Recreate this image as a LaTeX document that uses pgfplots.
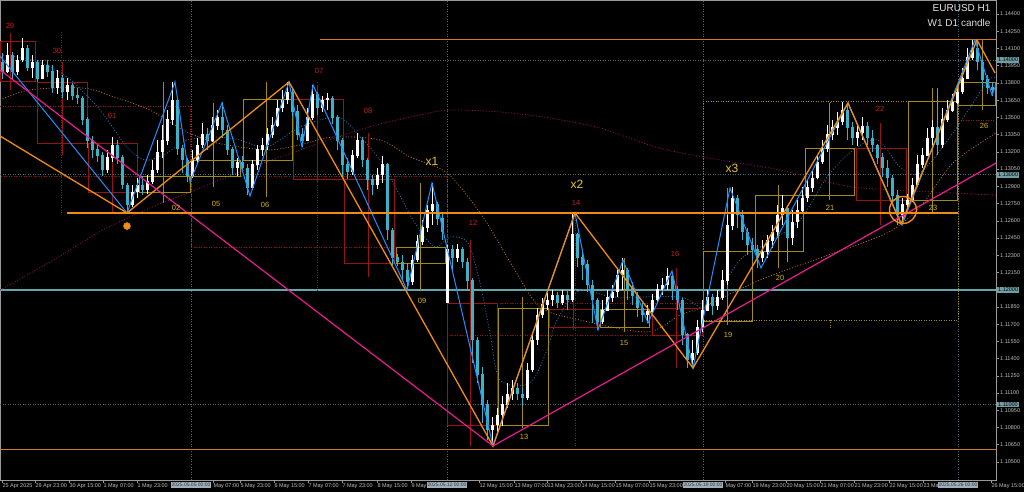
\documentclass[border=0pt]{standalone}
\usepackage{pgfplots}
\pgfplotsset{compat=1.18}
\usepackage{pgfplotstable}
\usepackage{fontspec}
\setmainfont{Liberation Sans}
\definecolor{cbear}{RGB}{60,178,200}
\definecolor{zzorange}{RGB}{240,140,20}
\definecolor{hlorange}{RGB}{205,125,30}
\definecolor{zzblue}{RGB}{30,144,255}
\definecolor{zzpink}{RGB}{232,28,140}
\definecolor{tealsolid}{RGB}{100,165,170}
\definecolor{tealdot}{RGB}{70,110,120}
\definecolor{sepgray}{RGB}{85,100,110}
\definecolor{dred}{RGB}{150,20,20}
\definecolor{lred}{RGB}{200,30,30}
\definecolor{olivebox}{RGB}{160,140,20}
\definecolor{ylab}{RGB}{215,180,20}
\definecolor{xlab}{RGB}{230,200,30}
\definecolor{maorange}{RGB}{180,110,30}
\definecolor{mamag}{RGB}{140,20,85}
\definecolor{mablue}{RGB}{40,110,170}
\definecolor{ticktxt}{RGB}{190,190,190}
\definecolor{pricebox}{RGB}{110,160,165}
\definecolor{timebox}{RGB}{160,175,190}

\pgfplotstableread{
x o h l c
7.5 1.1390 1.1415 1.1389 1.1404
17.5 1.1390 1.1404 1.1387 1.1400
22.5 1.1400 1.1419 1.1398 1.1410
32.5 1.1393 1.1404 1.1384 1.1398
42.5 1.1384 1.1400 1.1383 1.1395
57.5 1.1376 1.1391 1.1370 1.1384
67.5 1.1372 1.1384 1.1365 1.1378
107.5 1.1304 1.1322 1.1302 1.1315
112.5 1.1315 1.1333 1.1311 1.1326
132.5 1.1274 1.1291 1.1272 1.1285
137.5 1.1285 1.1297 1.1280 1.1291
147.5 1.1287 1.1300 1.1283 1.1294
152.5 1.1294 1.1313 1.1292 1.1304
157.5 1.1304 1.1330 1.1302 1.1320
162.5 1.1320 1.1343 1.1315 1.1330
167.5 1.1330 1.1356 1.1326 1.1348
172.5 1.1348 1.1381 1.1343 1.1365
192.5 1.1299 1.1322 1.1297 1.1313
197.5 1.1313 1.1332 1.1309 1.1326
202.5 1.1326 1.1345 1.1323 1.1335
212.5 1.1330 1.1350 1.1329 1.1343
217.5 1.1343 1.1356 1.1339 1.1350
237.5 1.1306 1.1315 1.1299 1.1311
252.5 1.1289 1.1313 1.1287 1.1309
257.5 1.1309 1.1326 1.1304 1.1322
262.5 1.1322 1.1332 1.1316 1.1326
267.5 1.1326 1.1341 1.1322 1.1335
272.5 1.1335 1.1350 1.1332 1.1343
277.5 1.1343 1.1365 1.1342 1.1358
282.5 1.1358 1.1374 1.1355 1.1365
287.5 1.1365 1.1381 1.1362 1.1372
307.5 1.1330 1.1358 1.1329 1.1350
312.5 1.1350 1.1378 1.1348 1.1370
322.5 1.1358 1.1369 1.1355 1.1365
327.5 1.1365 1.1371 1.1356 1.1367
352.5 1.1303 1.1322 1.1300 1.1317
357.5 1.1317 1.1336 1.1315 1.1330
377.5 1.1291 1.1306 1.1288 1.1300
382.5 1.1300 1.1316 1.1293 1.1309
412.5 1.1207 1.1230 1.1204 1.1226
417.5 1.1226 1.1248 1.1224 1.1242
422.5 1.1242 1.1261 1.1239 1.1254
427.5 1.1254 1.1274 1.1250 1.1269
432.5 1.1269 1.1293 1.1256 1.1274
447.5 1.1189 1.1239 1.1188 1.1235
457.5 1.1228 1.1240 1.1224 1.1235
492.5 1.1078 1.1089 1.1064 1.1082
497.5 1.1082 1.1097 1.1076 1.1091
502.5 1.1091 1.1107 1.1081 1.1100
507.5 1.1100 1.1119 1.1097 1.1109
512.5 1.1109 1.1121 1.1104 1.1114
527.5 1.1106 1.1136 1.1104 1.1130
532.5 1.1130 1.1161 1.1128 1.1156
537.5 1.1156 1.1184 1.1152 1.1178
542.5 1.1178 1.1193 1.1175 1.1187
547.5 1.1187 1.1197 1.1182 1.1191
552.5 1.1191 1.1200 1.1186 1.1195
562.5 1.1189 1.1200 1.1187 1.1195
572.5 1.1191 1.1267 1.1189 1.1248
602.5 1.1172 1.1191 1.1170 1.1182
607.5 1.1182 1.1200 1.1181 1.1193
612.5 1.1193 1.1204 1.1189 1.1198
617.5 1.1198 1.1217 1.1194 1.1213
622.5 1.1213 1.1228 1.1200 1.1217
647.5 1.1178 1.1187 1.1171 1.1181
652.5 1.1181 1.1196 1.1179 1.1191
657.5 1.1191 1.1205 1.1189 1.1200
662.5 1.1200 1.1210 1.1195 1.1204
667.5 1.1204 1.1219 1.1200 1.1212
692.5 1.1139 1.1156 1.1134 1.1145
697.5 1.1145 1.1174 1.1143 1.1167
702.5 1.1167 1.1191 1.1163 1.1182
707.5 1.1182 1.1200 1.1181 1.1193
717.5 1.1186 1.1200 1.1182 1.1193
722.5 1.1193 1.1217 1.1191 1.1208
727.5 1.1208 1.1265 1.1204 1.1256
732.5 1.1256 1.1289 1.1252 1.1280
762.5 1.1228 1.1243 1.1224 1.1233
767.5 1.1233 1.1248 1.1228 1.1243
772.5 1.1243 1.1256 1.1236 1.1250
777.5 1.1250 1.1274 1.1245 1.1265
782.5 1.1265 1.1282 1.1256 1.1271
792.5 1.1245 1.1269 1.1239 1.1259
797.5 1.1259 1.1278 1.1254 1.1269
802.5 1.1269 1.1289 1.1268 1.1280
807.5 1.1280 1.1296 1.1276 1.1289
812.5 1.1289 1.1304 1.1285 1.1297
817.5 1.1297 1.1317 1.1296 1.1311
822.5 1.1311 1.1330 1.1309 1.1323
827.5 1.1323 1.1343 1.1320 1.1335
832.5 1.1335 1.1348 1.1330 1.1341
837.5 1.1341 1.1355 1.1335 1.1346
842.5 1.1346 1.1363 1.1343 1.1356
857.5 1.1332 1.1343 1.1325 1.1337
862.5 1.1337 1.1350 1.1330 1.1342
902.5 1.1265 1.1280 1.1259 1.1274
907.5 1.1274 1.1283 1.1269 1.1278
912.5 1.1278 1.1297 1.1276 1.1291
917.5 1.1291 1.1317 1.1289 1.1309
922.5 1.1309 1.1323 1.1306 1.1317
927.5 1.1317 1.1341 1.1316 1.1332
932.5 1.1332 1.1348 1.1326 1.1341
942.5 1.1326 1.1358 1.1323 1.1348
947.5 1.1348 1.1365 1.1346 1.1356
952.5 1.1356 1.1370 1.1355 1.1363
957.5 1.1363 1.1378 1.1362 1.1372
962.5 1.1372 1.1393 1.1370 1.1384
967.5 1.1384 1.1410 1.1383 1.1402
972.5 1.1402 1.1417 1.1400 1.1410
}\bull

\pgfplotstableread{
x o h l c
2.5 1.1398 1.1406 1.1383 1.1390
12.5 1.1404 1.1407 1.1383 1.1390
27.5 1.1410 1.1413 1.1390 1.1393
37.5 1.1398 1.1400 1.1381 1.1384
47.5 1.1395 1.1400 1.1385 1.1390
52.5 1.1390 1.1396 1.1371 1.1376
62.5 1.1384 1.1387 1.1367 1.1372
72.5 1.1378 1.1380 1.1365 1.1369
77.5 1.1369 1.1376 1.1362 1.1367
82.5 1.1367 1.1369 1.1343 1.1348
87.5 1.1348 1.1350 1.1323 1.1330
92.5 1.1330 1.1334 1.1315 1.1322
97.5 1.1322 1.1326 1.1311 1.1317
102.5 1.1317 1.1320 1.1299 1.1304
117.5 1.1326 1.1330 1.1309 1.1315
122.5 1.1315 1.1317 1.1288 1.1291
127.5 1.1291 1.1293 1.1267 1.1274
142.5 1.1291 1.1299 1.1282 1.1287
177.5 1.1365 1.1367 1.1317 1.1323
182.5 1.1323 1.1326 1.1302 1.1313
187.5 1.1313 1.1315 1.1294 1.1299
207.5 1.1335 1.1341 1.1322 1.1330
222.5 1.1350 1.1363 1.1332 1.1339
227.5 1.1339 1.1343 1.1317 1.1322
232.5 1.1322 1.1324 1.1300 1.1306
242.5 1.1311 1.1316 1.1303 1.1306
247.5 1.1306 1.1309 1.1282 1.1289
292.5 1.1372 1.1376 1.1350 1.1355
297.5 1.1355 1.1361 1.1330 1.1335
302.5 1.1335 1.1341 1.1324 1.1330
317.5 1.1370 1.1372 1.1352 1.1358
332.5 1.1367 1.1369 1.1344 1.1350
337.5 1.1350 1.1352 1.1322 1.1330
342.5 1.1330 1.1332 1.1298 1.1309
347.5 1.1309 1.1315 1.1296 1.1303
362.5 1.1330 1.1333 1.1307 1.1313
367.5 1.1313 1.1315 1.1287 1.1296
372.5 1.1296 1.1300 1.1282 1.1291
387.5 1.1309 1.1310 1.1243 1.1252
392.5 1.1252 1.1254 1.1220 1.1228
397.5 1.1228 1.1231 1.1221 1.1224
402.5 1.1224 1.1230 1.1208 1.1217
407.5 1.1217 1.1223 1.1200 1.1207
437.5 1.1274 1.1276 1.1256 1.1262
442.5 1.1262 1.1268 1.1243 1.1250
452.5 1.1235 1.1239 1.1215 1.1228
462.5 1.1235 1.1237 1.1219 1.1224
467.5 1.1224 1.1228 1.1200 1.1208
472.5 1.1208 1.1210 1.1136 1.1156
477.5 1.1156 1.1159 1.1119 1.1126
482.5 1.1126 1.1133 1.1084 1.1100
487.5 1.1100 1.1104 1.1069 1.1078
517.5 1.1114 1.1119 1.1104 1.1109
522.5 1.1109 1.1114 1.1099 1.1106
557.5 1.1195 1.1198 1.1184 1.1189
567.5 1.1195 1.1201 1.1182 1.1191
577.5 1.1248 1.1249 1.1220 1.1228
582.5 1.1228 1.1235 1.1208 1.1222
587.5 1.1222 1.1226 1.1198 1.1204
592.5 1.1204 1.1208 1.1171 1.1191
597.5 1.1191 1.1193 1.1165 1.1172
627.5 1.1217 1.1219 1.1191 1.1201
632.5 1.1201 1.1207 1.1187 1.1195
637.5 1.1195 1.1198 1.1176 1.1184
642.5 1.1184 1.1188 1.1172 1.1178
672.5 1.1212 1.1215 1.1191 1.1200
677.5 1.1200 1.1203 1.1182 1.1191
682.5 1.1191 1.1193 1.1152 1.1161
687.5 1.1161 1.1162 1.1132 1.1139
712.5 1.1193 1.1196 1.1178 1.1186
737.5 1.1280 1.1282 1.1254 1.1265
742.5 1.1265 1.1269 1.1243 1.1250
747.5 1.1250 1.1254 1.1230 1.1239
752.5 1.1239 1.1245 1.1226 1.1235
757.5 1.1235 1.1239 1.1219 1.1228
787.5 1.1271 1.1274 1.1224 1.1245
847.5 1.1356 1.1361 1.1330 1.1341
852.5 1.1341 1.1346 1.1326 1.1332
867.5 1.1342 1.1346 1.1326 1.1332
872.5 1.1332 1.1339 1.1320 1.1326
877.5 1.1326 1.1327 1.1309 1.1315
882.5 1.1315 1.1319 1.1298 1.1306
887.5 1.1306 1.1313 1.1289 1.1297
892.5 1.1297 1.1300 1.1276 1.1282
897.5 1.1282 1.1287 1.1256 1.1265
937.5 1.1341 1.1376 1.1317 1.1326
977.5 1.1410 1.1416 1.1391 1.1398
982.5 1.1398 1.1400 1.1376 1.1383
987.5 1.1383 1.1387 1.1370 1.1376
992.5 1.1376 1.1381 1.1369 1.1374
}\bear

\begin{document}
\begin{tikzpicture}
\fill[black] (0,0) rectangle (1024pt,492pt);
\begin{axis}[
  at={(0pt,12pt)}, anchor=south west,
  scale only axis, width=996pt, height=480pt,
  xmin=0, xmax=996, ymin=1.10343, ymax=1.14522,
  clip mode=individual,
  unbounded coords=jump,
  axis line style={draw=gray!80, line width=0.6pt},
  tick style={draw=gray!80, line width=0.5pt},
  major tick length=3pt,
  tick align=outside,
  xtick pos=left, ytick pos=right, yticklabel pos=right,
  xtick={2,35,69,103,137,213,240,274,308,342,377,411,479,514,547,581,615,649,725,752,786,820,854,889,923,991},
  xticklabels={25 Apr 2025,29 Apr 23:00,30 Apr 15:00,1 May 07:00,1 May 23:00,May 07:00,5 May 23:00,6 May 15:00,7 May 07:00,7 May 23:00,8 May 15:00,9 May,12 May 15:00,13 May 07:00,13 May 23:00,14 May 15:00,15 May 07:00,15 May 23:00,May 07:00,19 May 23:00,20 May 15:00,21 May 07:00,21 May 23:00,22 May 15:00,23 May,26 May 15:00},
  ytick={1.144,1.1425,1.141,1.1395,1.138,1.1365,1.135,1.1335,1.132,1.1305,1.129,1.1275,1.126,1.1245,1.123,1.1215,1.12,1.1185,1.117,1.1155,1.114,1.1125,1.111,1.1095,1.108,1.1065,1.105},
  yticklabels={1.14400,1.14250,1.14100,1.13950,1.13800,1.13650,1.13500,1.13350,1.13200,1.13050,1.12900,1.12750,1.12600,1.12450,1.12300,1.12150,,1.11850,1.11700,1.11550,1.11400,1.11250,1.11100,1.10950,1.10800,1.10650,1.10500},
  xticklabel style={anchor=north west, font=\fontsize{5.5}{6}\selectfont, text=ticktxt, inner sep=0.8pt, xshift=-0.5pt},
  yticklabel style={anchor=west, font=\fontsize{5.5}{6}\selectfont, text=ticktxt, inner sep=1pt},
]
% week separators
\addplot[sepgray, dash pattern=on 1pt off 1.5pt, line width=0.6pt] coordinates {(191,1.10343)(191,1.14522)(191,nan)(447,1.10343)(447,1.14522)(447,nan)(703,1.10343)(703,1.14522)(703,nan)(958,1.10343)(958,1.14522)};
% round-level lines
\addplot[tealdot, dash pattern=on 1pt off 1.5pt, line width=0.7pt] coordinates {(0,1.14)(996,1.14)(996,nan)(0,1.13)(996,1.13)(996,nan)(0,1.11)(996,1.11)};
\addplot[tealsolid, line width=2pt] coordinates {(0,1.12)(996,1.12)};
% weekly candle boxes
\addplot[dred, dash pattern=on 1pt off 1.5pt, line width=0.7pt] coordinates {
(0,1.13599)(190,1.13599)(190,1.12990)(0,1.12990)(190,nan)
(61,1.14243)(61,1.12668)(61,nan)
(191,1.12990)(447,1.12990)(447,1.12367)(191,1.12367)(191,1.12990)(191,nan)
(317,1.13808)(317,1.11980)(317,nan)
(447,1.11884)(703,1.11884)(703,1.11606)(447,1.11606)(447,1.11884)(447,nan)
(575,1.12668)(575,1.10639)};
\addplot[olivebox, dash pattern=on 1pt off 1.5pt, line width=0.7pt] coordinates {
(703,1.13643)(958,1.13643)(958,1.11736)(703,1.11736)(703,1.13643)(703,nan)
(830,1.13625)(830,1.13643)(830,nan)(830,1.11736)(830,1.11660)};
\addplot[dred, dash pattern=on 1pt off 1.5pt, line width=0.7pt] coordinates {(958,1.13477)(996,1.13477)};
% moving averages
\addplot[maorange, dash pattern=on 1pt off 1.8pt, line width=0.8pt, smooth] coordinates {
(0,1.13651)(30,1.13739)(83,1.13756)(117,1.13669)(150,1.13564)(183,1.13390)(213,1.13286)(240,1.13242)(270,1.13216)(300,1.13260)(333,1.13329)(380,1.13303)(410,1.13155)(447,1.13016)(483,1.12633)(513,1.12198)(540,1.11849)(580,1.11736)(647,1.11632)(680,1.11780)(703,1.11849)(760,1.12084)(820,1.12276)(887,1.12494)(920,1.12720)(953,1.13103)(996,1.13364)};
\addplot[mamag, dash pattern=on 1pt off 1.8pt, line width=0.8pt, smooth] coordinates {
(0,1.11997)(50,1.12241)(103,1.12520)(150,1.12711)(200,1.12885)(250,1.13060)(300,1.13216)(340,1.13338)(380,1.13442)(420,1.13521)(450,1.13564)(500,1.13547)(550,1.13495)(600,1.13408)(640,1.13286)(667,1.13216)(720,1.13129)(780,1.13042)(853,1.12894)(953,1.12842)(996,1.12824)};
\addplot[mablue, dash pattern=on 1pt off 1.8pt, line width=0.8pt, smooth] coordinates {
(0,1.14043)(33,1.14000)(67,1.13852)(100,1.13564)(127,1.13242)(145,1.13129)(165,1.13180)(187,1.13303)(217,1.13329)(240,1.13303)(267,1.13242)(300,1.13416)(337,1.13503)(357,1.13364)(380,1.13129)(397,1.12868)(413,1.12607)(427,1.12433)(437,1.12372)(450,1.12459)(468,1.12406)(480,1.12058)(490,1.11623)(500,1.11214)(530,1.11188)(547,1.11475)(557,1.11736)(580,1.11997)(613,1.11936)(680,1.11936)(707,1.11849)(740,1.12258)(767,1.12406)(800,1.12607)(827,1.12981)(853,1.13216)(878,1.13303)(900,1.13068)(920,1.13016)(953,1.13364)(987,1.13808)(996,1.13843)};
% daily candle boxes
\addplot[dred, line width=0.8pt] coordinates {
(0,1.14165)(35,1.14165)(35,1.13817)(0,1.13817)(0,1.14165)(0,nan)
(37,1.13808)(87,1.13808)(87,1.13277)(37,1.13277)(37,1.13808)(37,nan)
(88,1.13277)(137,1.13277)(137,1.12850)(88,1.12850)(88,1.13277)(88,nan)
(293,1.13660)(343,1.13660)(343,1.12964)(293,1.12964)(293,1.13660)(293,nan)
(344,1.12964)(394,1.12964)(394,1.12232)(344,1.12232)(344,1.12964)(344,nan)
(447,1.11884)(497,1.11884)(497,1.10822)(447,1.10822)(447,1.11884)(447,nan)
(549,1.11832)(598,1.11832)(598,1.11675)(549,1.11675)(549,1.11832)(549,nan)
(652,1.11841)(702,1.11841)(702,1.11606)(652,1.11606)(652,1.11841)(652,nan)
(856,1.13234)(906,1.13234)(906,1.12781)(856,1.12781)(856,1.13234)(856,nan)
(10,1.14235)(10,1.13739)(10,nan)
(62,1.13982)(62,1.13173)(62,nan)
(112,1.13329)(112,1.12668)(112,nan)
(317,1.13782)(317,1.12929)(317,nan)
(368,1.13364)(368,1.12110)(368,nan)
(470,1.12433)(470,1.10639)(470,nan)
(573,1.12668)(573,1.11649)(573,nan)
(676,1.12189)(676,1.11318)(676,nan)
(880,1.13451)(880,1.12563)};
\addplot[olivebox, line width=0.8pt] coordinates {
(139,1.12990)(190,1.12990)(190,1.12850)(139,1.12850)(139,1.12990)(139,nan)
(191,1.13129)(240,1.13129)(240,1.12990)(191,1.12990)(191,1.13129)(191,nan)
(243,1.13660)(292,1.13660)(292,1.13129)(243,1.13129)(243,1.13660)(243,nan)
(396,1.12367)(445,1.12367)(445,1.12232)(396,1.12232)(396,1.12367)(396,nan)
(498,1.11841)(548,1.11841)(548,1.10822)(498,1.10822)(498,1.11841)(498,nan)
(600,1.11832)(649,1.11832)(649,1.11675)(600,1.11675)(600,1.11832)(600,nan)
(703,1.12337)(752,1.12337)(752,1.11727)(703,1.11727)(703,1.12337)(703,nan)
(755,1.12824)(803,1.12824)(803,1.12337)(755,1.12337)(755,1.12824)(755,nan)
(805,1.13234)(854,1.13234)(854,1.12824)(805,1.12824)(805,1.13234)(805,nan)
(908,1.13643)(957,1.13643)(957,1.12781)(908,1.12781)(908,1.13643)(908,nan)
(958,1.13808)(995,1.13808)(995,1.13608)(958,1.13608)(958,1.13808)(958,nan)
(163,1.13808)(163,1.12755)(163,nan)
(213,1.13625)(213,1.12894)(213,nan)
(266,1.13808)(266,1.12807)(266,nan)
(420,1.12929)(420,1.11997)(420,nan)
(522,1.11936)(522,1.10796)(522,nan)
(624,1.12276)(624,1.11632)(624,nan)
(727,1.12885)(727,1.11693)(727,nan)
(778,1.12912)(778,1.12189)(778,nan)
(829,1.13625)(829,1.12781)(829,nan)
(932,1.13756)(932,1.12676)(932,nan)
(982,1.14174)(982,1.13564)};
% candles
\addplot[draw=none, mark=none, error bars/.cd, y dir=both, y explicit, error mark=none, error bar style={draw=cbear, line width=0.6pt}]
  table[x=x, y=c, y error plus expr=\thisrow{h}-\thisrow{c}, y error minus expr=\thisrow{c}-\thisrow{l}] {\bear};
\addplot[draw=none, mark=none, error bars/.cd, y dir=both, y explicit, error mark=none, error bar style={draw=cbear, line width=3.4pt}]
  table[x=x, y expr=0.5*(\thisrow{o}+\thisrow{c}), y error expr=0.5*abs(\thisrow{c}-\thisrow{o})+0.00002] {\bear};
\addplot[draw=none, mark=none, error bars/.cd, y dir=both, y explicit, error mark=none, error bar style={draw=white, line width=0.6pt}]
  table[x=x, y=c, y error plus expr=\thisrow{h}-\thisrow{c}, y error minus expr=\thisrow{c}-\thisrow{l}] {\bull};
\addplot[draw=none, mark=none, error bars/.cd, y dir=both, y explicit, error mark=none, error bar style={draw=white, line width=3.4pt}]
  table[x=x, y expr=0.5*(\thisrow{o}+\thisrow{c}), y error expr=0.5*abs(\thisrow{c}-\thisrow{o})+0.00002] {\bull};
% zigzags and trend lines
\addplot[zzblue, line width=1pt] coordinates {(0,1.14034)(127,1.12668)(175,1.13808)(190,1.12938)(222,1.13625)(250,1.12816)(289,1.13808)(302,1.13242)(313,1.13782)(407,1.11997)(432,1.12929)(493,1.10639)(575,1.12668)(598,1.11649)(623,1.12258)(648,1.11710)(672,1.12163)(693,1.11318)(730,1.12885)(761,1.12189)(848,1.13625)(902,1.12563)(975,1.14174)(992,1.13695)(996,1.13782)};
\addplot[zzorange, line width=1.3pt] coordinates {(0,1.13338)(127,1.12668)(289,1.13808)(410,1.11928)(493,1.10639)(575,1.12668)(693,1.11318)(848,1.13625)(901,1.12572)(977,1.14174)(995,1.13886)};
\addplot[zzpink, line width=1.2pt] coordinates {(0,1.13913)(493,1.10639)(996,1.13103)};
\addplot[zzorange, line width=1.3pt] coordinates {(67,1.12668)(958,1.12668)};
\addplot[hlorange, line width=1pt] coordinates {(320,1.14182)(996,1.14182)};
\addplot[hlorange, line width=1pt] coordinates {(0,1.10605)(996,1.10605)};
\addplot[only marks, mark=o, mark size=13.5pt, mark options={draw=zzorange, line width=1.4pt}] coordinates {(903,1.12694)};
\addplot[only marks, mark=*, mark size=3.5pt, mark options={draw=zzorange, fill=zzorange}] coordinates {(127,1.12554)};
% day labels
\begin{scope}[every node/.style={font=\fontsize{7.5}{8}\selectfont}]
\node[text=lred] at (axis cs:10,1.14296) {29};
\node[text=lred] at (axis cs:57,1.14078) {30};
\node[text=lred] at (axis cs:112,1.13512) {01};
\node[text=ylab] at (axis cs:176,1.12711) {02};
\node[text=ylab] at (axis cs:216,1.12746) {05};
\node[text=ylab] at (axis cs:265,1.12737) {06};
\node[text=lred] at (axis cs:319,1.13904) {07};
\node[text=lred] at (axis cs:368,1.13556) {08};
\node[text=ylab] at (axis cs:422,1.11902) {09};
\node[text=lred] at (axis cs:473,1.12581) {12};
\node[text=ylab] at (axis cs:524,1.10717) {13};
\node[text=lred] at (axis cs:576,1.12755) {14};
\node[text=ylab] at (axis cs:624,1.11536) {15};
\node[text=lred] at (axis cs:675,1.12311) {16};
\node[text=ylab] at (axis cs:728,1.11606) {19};
\node[text=ylab] at (axis cs:780,1.12102) {20};
\node[text=ylab] at (axis cs:830,1.12711) {21};
\node[text=lred] at (axis cs:880,1.13573) {22};
\node[text=ylab] at (axis cs:933,1.12711) {23};
\node[text=ylab] at (axis cs:984,1.13425) {26};
\end{scope}
\node[text=xlab, font=\fontsize{12}{13}\selectfont] at (axis cs:432,1.13120) {x1};
\node[text=xlab, font=\fontsize{12}{13}\selectfont] at (axis cs:577,1.12920) {x2};
\node[text=xlab, font=\fontsize{12}{13}\selectfont] at (axis cs:732,1.13060) {x3};
\node[anchor=east, text=white!90!black, font=\fontsize{10}{11}\selectfont] at (axis cs:994,1.14452) {EURUSD H1};
\node[anchor=east, text=white!85!black, font=\fontsize{10}{11}\selectfont] at (axis cs:994,1.14322) {W1 D1 candle};
\coordinate (p1) at (axis cs:996,1.14);
\coordinate (p2) at (axis cs:996,1.13);
\coordinate (p3) at (axis cs:996,1.12);
\coordinate (p4) at (axis cs:996,1.11);
\coordinate (t1) at (axis cs:191,1.10343);
\coordinate (t2) at (axis cs:447,1.10343);
\coordinate (t3) at (axis cs:703,1.10343);
\coordinate (t4) at (axis cs:958,1.10343);
\end{axis}
\begin{scope}[every node/.style={inner xsep=1pt, inner ysep=1pt, font=\fontsize{5.5}{6}\selectfont}]
\node[anchor=west, fill=pricebox, text=black, xshift=1pt] at (p1) {1.14000};
\node[anchor=west, fill=pricebox, text=black, xshift=1pt] at (p2) {1.13000};
\node[anchor=west, fill=pricebox, text=black, xshift=1pt] at (p3) {1.12000};
\node[anchor=west, fill=pricebox, text=black, xshift=1pt] at (p4) {1.11000};
\node[anchor=north, fill=timebox, text=black!80, yshift=-2.2pt, font=\fontsize{5}{6}\selectfont] at (t1) {2025.05.05 00:00};
\node[anchor=north, fill=timebox, text=black!80, yshift=-2.2pt, font=\fontsize{5}{6}\selectfont] at (t2) {2025.05.12 00:00};
\node[anchor=north, fill=timebox, text=black!80, yshift=-2.2pt, font=\fontsize{5}{6}\selectfont] at (t3) {2025.05.19 00:00};
\node[anchor=north, fill=timebox, text=black!80, yshift=-2.2pt, font=\fontsize{5}{6}\selectfont] at (t4) {2025.05.26 00:00};
\end{scope}
\pgfresetboundingbox
\path[use as bounding box] (0,0) rectangle (1024pt,492pt);
\end{tikzpicture}
\end{document}
